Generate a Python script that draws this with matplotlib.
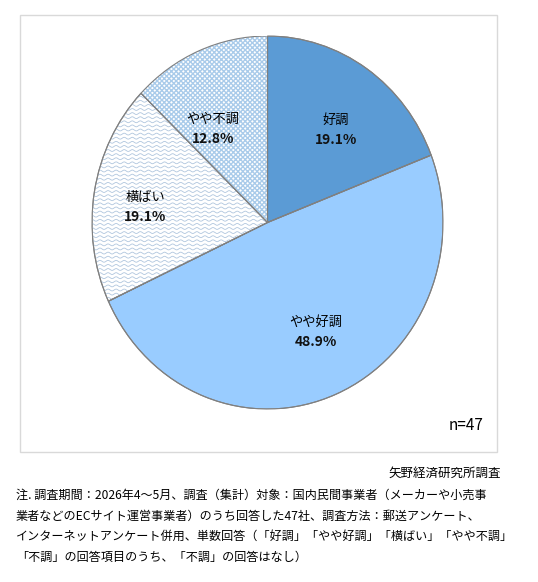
import numpy as np
import matplotlib
matplotlib.use("Agg")
import matplotlib.pyplot as plt
import matplotlib.patches as mpatches

plt.rcParams['font.family'] = ['Noto Sans CJK JP', 'DejaVu Sans']

# データ
labels = ["好調", "やや好調", "横ばい", "やや不調"]
shares = [19.1, 48.9, 19.1, 12.8]
n_label = "n=47"
source = "矢野経済研究所調査"
note = ("注. 調査期間：2026年4～5月、調査（集計）対象：国内民間事業者（メーカーや小売事\n"
        "業者などのECサイト運営事業者）のうち回答した47社、調査方法：郵送アンケート、\n"
        "インターネットアンケート併用、単数回答（「好調」「やや好調」「横ばい」「やや不調」\n"
        "「不調」の回答項目のうち、「不調」の回答はなし）")

W, H = 538, 582
fig = plt.figure(figsize=(W / 100, H / 100), dpi=100)

# 枠
fig.patches.append(mpatches.Rectangle((20 / W, 1 - 452 / H), 477 / W, 437 / H,
                                      transform=fig.transFigure, fill=False,
                                      edgecolor='#d9d9d9', linewidth=1))

# 円グラフ（やや楕円）
ax = fig.add_axes([92 / W, 1 - 409 / H, 351 / W, 373 / H])
colors = ['#5b9bd5', '#99ccff', 'white', 'white']
wedges, _ = ax.pie(shares, colors=colors, startangle=90, counterclock=False,
                   wedgeprops=dict(edgecolor='#808080', linewidth=0.8))
ax.set_aspect('auto')
ax.set_xlim(-1, 1)
ax.set_ylim(-1, 1)
ax.axis('off')

# やや不調: 細かい格子
w = wedges[3]
w.set_hatch('xxxxxxx')
w.set_edgecolor('#a9cbea')
w.set_linewidth(0)

# 横ばい: 波線
xs = np.linspace(-1, 1, 800)
for y0 in np.arange(-1, 1, 0.022):
    line, = ax.plot(xs, y0 + 0.005 * np.sin(xs * 2 * np.pi / 0.046),
                    color='#b0c6de', linewidth=0.6)
    line.set_clip_path(wedges[2])

# 輪郭を描き直す
for wd in wedges:
    ax.add_patch(mpatches.Wedge(wd.center, wd.r, wd.theta1, wd.theta2,
                                fill=False, edgecolor='#808080', linewidth=0.8,
                                zorder=3))

# ラベル
start = 90
r_lab = [0.63, 0.65, 0.70, 0.59]
a_off = [-4, 2, 2.4, 8.6]
for lab, val, rr, da in zip(labels, shares, r_lab, a_off):
    mid = np.deg2rad(start - val * 3.6 / 2 + da)
    start -= val * 3.6
    x, y = rr * np.cos(mid), rr * np.sin(mid)
    ax.text(x, y + 0.052, lab, ha='center', va='center', fontsize=9.5, zorder=4)
    ax.text(x, y - 0.052, f"{val:.1f}%", ha='center', va='center',
            fontsize=10, fontweight='bold', color='#111111', zorder=4)

fig.text(484 / W, 1 - 426 / H, n_label, ha='right', va='center', fontsize=11)
fig.text(501 / W, 1 - 473 / H, source, ha='right', va='center', fontsize=9)
fig.text(16 / W, 1 - 489 / H, note, ha='left', va='top', fontsize=8.7,
         linespacing=1.75)

fig.savefig("out.png", dpi=100)
